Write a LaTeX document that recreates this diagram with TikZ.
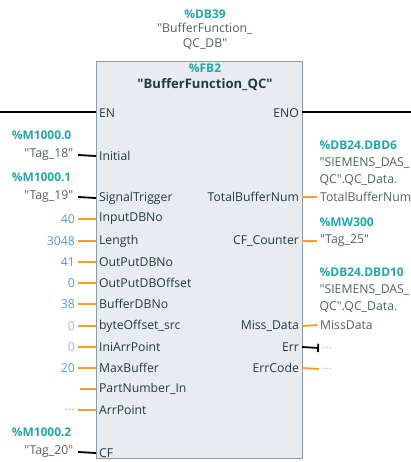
\documentclass[tikz,border=0pt]{standalone}
\usepackage{fontspec}
\setmainfont{Open Sans}[Ligatures=TeXOff]
\usepackage{tikz}
\usetikzlibrary{arrows.meta}

\definecolor{addrteal}{HTML}{25A5A8}
\definecolor{constblue}{HTML}{5A95D2}
\definecolor{constgrey}{HTML}{A8B6C6}
\definecolor{pintext}{HTML}{213C3C}
\definecolor{wireorange}{HTML}{F4A025}
\definecolor{fbfill}{HTML}{E8ECF0}
\definecolor{fbline}{HTML}{8E9AA6}
\newcommand{\qt}{\symbol{34}}

\begin{document}
\begin{tikzpicture}[x=0.025cm, y=-0.025cm, font=\fontsize{8.7}{10}\selectfont]
    % Styles
    \tikzstyle{fbbox} = [rectangle, draw=fbline, thick, fill=fbfill, anchor=north west, minimum width=5.15cm, minimum height=9.925cm, inner sep=0pt]
    \tikzstyle{pinL} = [anchor=west, inner sep=2pt, text=pintext]
    \tikzstyle{pinR} = [anchor=east, inner sep=2pt, text=pintext]
    \tikzstyle{valL} = [anchor=east, inner sep=2pt, text=constblue]
    \tikzstyle{valR} = [anchor=west, inner sep=2pt, text=pintext!80]
    \tikzstyle{addr} = [inner sep=1pt, text=addrteal, font=\fontsize{8.5}{9}\selectfont\bfseries]
    \tikzstyle{txt} = [inner sep=1pt, text=pintext!80]
    \tikzstyle{wbool} = [line width=1.3pt, black]
    \tikzstyle{wword} = [line width=1.3pt, wireorange]
    \tikzstyle{rail} = [line width=1.6pt, black]

    \useasboundingbox (0,0) rectangle (411,462);

    % Block
    \node[fbbox] (FB) at (96,61) {};
    \node[addr] (db) at (205,14) {\%DB39};
    \node[txt] (dbname1) at (205,29) {\qt BufferFunction\_};
    \node[txt] (dbname2) at (205,44) {QC\_DB\qt};
    \node[addr] (fbnum) at (205,68) {\%FB2};
    \node[txt, text=pintext, font=\fontsize{9.3}{10}\selectfont\bfseries] (fbname) at (205,85) {\qt BufferFunction\_QC\qt};

    % Power flow
    \node[pinL] (EN) at (96,113) {EN};
    \node[pinR] (ENO) at (302,113) {ENO};
    \coordinate (railL) at (0,112);
    \coordinate (railR) at (411,112);
    \draw[rail] (railL) -- (EN.west |- railL);
    \draw[rail] (ENO.east |- railR) -- (railR);

    % Inputs
    \node[addr, anchor=east] (m0) at (73,135) {\%M1000.0};
    \node[txt, anchor=east] (tag18) at (75,155) {\qt Tag\_18\qt};
    \node[pinL] (Initial) at (96,156) {Initial};
    \node[addr, anchor=east] (m1) at (73,177) {\%M1000.1};
    \node[txt, anchor=east] (tag19) at (75,197) {\qt Tag\_19\qt};
    \node[pinL] (SignalTrigger) at (96,198) {SignalTrigger};
    \node[valL] (v1) at (78,219) {40};
    \node[pinL] (InputDBNo) at (96,219) {InputDBNo};
    \node[valL] (v2) at (78,241) {3048};
    \node[pinL] (Length) at (96,241) {Length};
    \node[valL] (v3) at (78,262) {41};
    \node[pinL] (OutPutDBNo) at (96,262) {OutPutDBNo};
    \node[valL] (v4) at (78,283) {0};
    \node[pinL] (OutPutDBOffset) at (96,283) {OutPutDBOffset};
    \node[valL] (v5) at (78,304) {38};
    \node[pinL] (BufferDBNo) at (96,304) {BufferDBNo};
    \node[valL, text=constgrey] (v6) at (78,326) {0};
    \node[pinL] (byteOffset) at (96,326) {byteOffset\_src};
    \node[valL, text=constgrey] (v7) at (78,347) {0};
    \node[pinL] (IniArrPoint) at (96,347) {IniArrPoint};
    \node[valL] (v8) at (78,368) {20};
    \node[pinL] (MaxBuffer) at (96,368) {MaxBuffer};
    \coordinate (v9) at (80,389);
    \node[pinL] (PartNumber) at (96,389) {PartNumber\_In};
    \node[valL, text=constgrey] (v10) at (78,410) {...};
    \node[pinL] (ArrPoint) at (96,410) {ArrPoint};
    \node[addr, anchor=east] (m2) at (73,432) {\%M1000.2};
    \node[txt, anchor=east] (tag20) at (75,452) {\qt Tag\_20\qt};
    \node[pinL] (CF) at (96,453) {CF};

    % Outputs
    \node[pinR] (TotalBufferNum) at (302,197) {TotalBufferNum};
    \node[addr, anchor=west] (db6) at (318,145) {\%DB24.DBD6};
    \node[txt, anchor=west] (s1) at (318,163) {\qt SIEMENS\_DAS\_};
    \node[txt, anchor=west] (s2) at (318,180) {QC\qt.QC\_Data.};
    \node[valR] (o1) at (317,197) {TotalBufferNum};
    \node[pinR] (CFCounter) at (302,241) {CF\_Counter};
    \node[addr, anchor=west] (mw) at (318,222) {\%MW300};
    \node[valR] (o2) at (317,241) {\qt Tag\_25\qt};
    \node[pinR] (MissData) at (302,326) {Miss\_Data};
    \node[addr, anchor=west] (db10) at (318,272) {\%DB24.DBD10};
    \node[txt, anchor=west] (s3) at (318,290) {\qt SIEMENS\_DAS\_};
    \node[txt, anchor=west] (s4) at (318,307) {QC\qt.QC\_Data.};
    \node[valR] (o3) at (317,325) {MissData};
    \node[pinR] (Err) at (302,347) {Err};
    \node[valR, text=constgrey] (o4) at (319,348) {...};
    \node[pinR] (ErrCode) at (302,368) {ErrCode};
    \node[valR, text=constgrey] (o5) at (319,369) {...};

    % Wires
    \draw[wbool] (tag18.east) ++(3,0) coordinate (t18) (t18) -- (Initial.west);
    \draw[wbool] (tag19.east) ++(3,0) coordinate (t19) (t19) -- (SignalTrigger.west);
    \draw[wbool] (tag20.east) ++(3,0) coordinate (t20) (t20) -- (CF.west);
    \draw[wword] (v1.east) -- (InputDBNo.west);
    \draw[wword] (v2.east) -- (Length.west);
    \draw[wword] (v3.east) -- (OutPutDBNo.west);
    \draw[wword] (v4.east) -- (OutPutDBOffset.west);
    \draw[wword] (v5.east) -- (BufferDBNo.west);
    \draw[wword] (v6.east) -- (byteOffset.west);
    \draw[wword] (v7.east) -- (IniArrPoint.west);
    \draw[wword] (v8.east) -- (MaxBuffer.west);
    \draw[wword] (v9) -- (PartNumber.west);
    \draw[wword] (v10.east) -- (ArrPoint.west);
    \draw[wword] (TotalBufferNum.east) -- (o1.west);
    \draw[wword] (CFCounter.east) -- (o2.west);
    \draw[wword] (MissData.east) -- (o3.west);
    \draw[wbool, -{Bar[width=6pt,line width=1.3pt]}] (Err.east) -- (o4.west);
    \draw[wword] (ErrCode.east) -- (o5.west);
\end{tikzpicture}
\end{document}
